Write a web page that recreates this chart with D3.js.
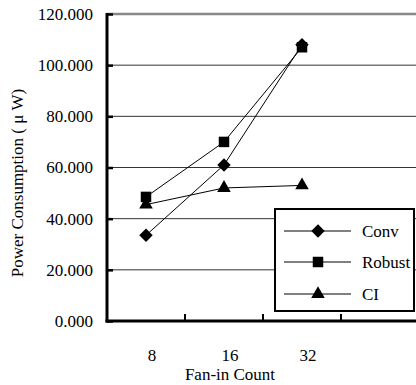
<!DOCTYPE html>
<html>
<head>
<meta charset="utf-8">
<script src="https://cdn.jsdelivr.net/npm/d3@7"></script>
<style>
  body { margin: 0; background: #fff; }
</style>
</head>
<body>
<div id="content"></div>
<script>
// Data.
var categories = ['8', '16', '32'];
var conv = [33.5, 61, 108];
var robust = [48.5, 70, 107];
var ci = [45.5, 52, 53];
var yTicks = [0, 20, 40, 60, 80, 100, 120];
var seriesNames = ['Conv', 'Robust', 'CI'];

var FONT = '"Liberation Serif", "Times New Roman", Times, serif';
var width = 416, height = 385;
var svg = d3.select('#content').append('svg')
    .attr('width', width).attr('height', height);

function label(sel) {
  return sel.attr('font-family', FONT).style('font-family', FONT)
      .style('font-size', '17px').attr('fill', '#000');
}

// Scales: a fourth, empty category runs past the right edge.
var x = d3.scaleBand().domain(categories.concat([''])).range([107, 419]);
var y = d3.scaleLinear().domain([0, 120]).range([321, 14]);

// Gridlines.
svg.selectAll('.grid').data(yTicks.slice(1)).enter().append('line')
    .attr('x1', 107).attr('x2', width)
    .attr('y1', function(d) { return y(d); })
    .attr('y2', function(d) { return y(d); })
    .attr('stroke', function(d) { return d === 120 ? '#888' : '#333'; })
    .attr('stroke-width', function(d) { return d === 120 ? 2.5 : 1; });

// Y axis with inward ticks.
var yAxis = d3.axisRight(y).tickValues(yTicks).tickSize(6).tickFormat('');
var gy = svg.append('g').attr('transform', 'translate(107,0)').call(yAxis);
gy.select('.domain').remove();
gy.selectAll('.tick line').attr('stroke', '#000').attr('stroke-width', 2.5);
svg.append('line').attr('x1', 107).attr('x2', 107).attr('y1', 13).attr('y2', 322.5)
    .attr('stroke', '#000').attr('stroke-width', 3);

label(svg.selectAll('.ylab').data(yTicks).enter().append('text'))
    .attr('x', 93).attr('y', function(d) { return y(d); })
    .attr('dy', '0.35em').attr('text-anchor', 'end')
    .text(function(d) { return d3.format('.3f')(d); });

// X axis with upward ticks at band boundaries.
svg.append('line').attr('x1', 105.5).attr('x2', width).attr('y1', 321).attr('y2', 321)
    .attr('stroke', '#000').attr('stroke-width', 3);
var bounds = x.domain().slice(1).map(function(d) { return x(d); });
svg.selectAll('.xtick').data(bounds).enter().append('line')
    .attr('x1', function(d) { return d; }).attr('x2', function(d) { return d; })
    .attr('y1', 321).attr('y2', 314)
    .attr('stroke', '#000').attr('stroke-width', 2);

label(svg.selectAll('.xlab').data(categories).enter().append('text'))
    .attr('x', function(d) { return x(d) + x.bandwidth() / 2 + 6; })
    .attr('y', 355).attr('dy', '0.35em').attr('text-anchor', 'middle')
    .text(function(d) { return d; });

label(svg.append('text')).attr('x', 230).attr('y', 374).attr('dy', '0.35em')
    .attr('text-anchor', 'middle').text('Fan-in Count');

label(svg.append('text')).attr('transform', 'translate(17,183) rotate(-90)')
    .attr('dy', '0.35em').attr('text-anchor', 'middle')
    .text('Power Consumption ( \u03bc W)');

// Markers.
var diamond = d3.symbol().type(d3.symbolSquare).size(90)();
var square = d3.symbol().type(d3.symbolSquare).size(110)();
var triangle = d3.symbol().type(d3.symbolTriangle).size(80)();
var shapes = [
  {path: diamond, rot: 45},
  {path: square, rot: 0},
  {path: triangle, rot: 0}
];

var allSeries = [conv, robust, ci];
var line = d3.line()
    .x(function(d, i) { return x(categories[i]) + x.bandwidth() / 2; })
    .y(function(d) { return y(d); });

allSeries.forEach(function(vals) {
  svg.append('path').attr('d', line(vals))
      .attr('fill', 'none').attr('stroke', '#000').attr('stroke-width', 1);
});
allSeries.forEach(function(vals, s) {
  svg.selectAll(null).data(vals).enter().append('path')
      .attr('d', shapes[s].path)
      .attr('transform', function(d, i) {
        return 'translate(' + (x(categories[i]) + x.bandwidth() / 2) + ',' + y(d) + ') rotate(' + shapes[s].rot + ')';
      })
      .attr('fill', '#000');
});

// Legend.
var leg = svg.append('g');
leg.append('rect').attr('x', 275).attr('y', 209).attr('width', 139).attr('height', 102)
    .attr('fill', '#fff').attr('stroke', '#000').attr('stroke-width', 2);
var legY = [231, 262, 294];
seriesNames.forEach(function(name, s) {
  leg.append('line').attr('x1', 284).attr('x2', 351).attr('y1', legY[s]).attr('y2', legY[s])
      .attr('stroke', '#000').attr('stroke-width', 1);
  leg.append('path').attr('d', shapes[s].path)
      .attr('transform', 'translate(318,' + legY[s] + ') rotate(' + shapes[s].rot + ')')
      .attr('fill', '#000');
  label(leg.append('text')).attr('x', 362).attr('y', legY[s]).attr('dy', '0.35em')
      .text(name);
});
</script>
</body>
</html>
